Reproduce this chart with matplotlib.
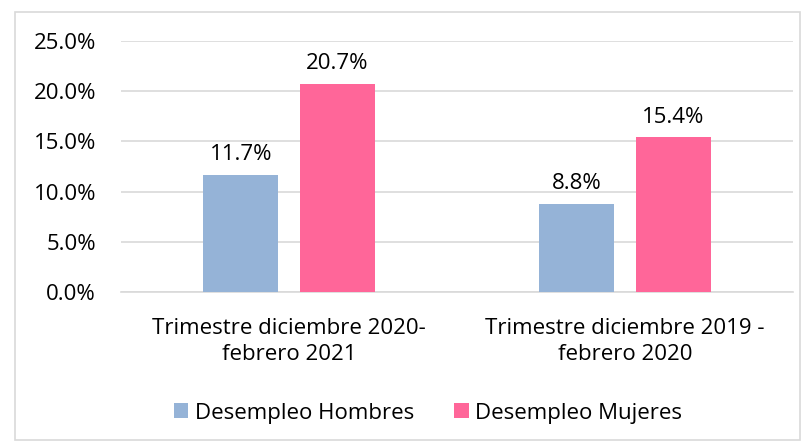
import matplotlib.pyplot as plt
from matplotlib.patches import Rectangle
from matplotlib.ticker import FuncFormatter

categories = ["Trimestre diciembre 2020-\nfebrero 2021", "Trimestre diciembre 2019 -\nfebrero 2020"]
hombres = [11.7, 8.8]
mujeres = [20.7, 15.4]
series_names = ["Desempleo Hombres", "Desempleo Mujeres"]
y_ticks = [0, 5, 10, 15, 20, 25]

plt.rcParams['font.family'] = ['Open Sans', 'DejaVu Sans']
fs = 16

fig = plt.figure(figsize=(8.08, 4.47), dpi=100)
ax = fig.add_axes([121/808, 1 - 292/447, 672/808, 251/447])

# frame around the whole chart
fig.patches.append(Rectangle((15/808, 1 - 440/447), 785/808, 428/447,
                             transform=fig.transFigure, fill=False,
                             edgecolor='#D9D9D9', linewidth=1.2))

x = range(len(categories))
w = 0.223
off = 0.143
b1 = ax.bar([i - off for i in x], hombres, w, color='#95B3D7', label=series_names[0], zorder=3)
b2 = ax.bar([i + off for i in x], mujeres, w, color='#FF6699', label=series_names[1], zorder=3)

for bars, vals in ((b1, hombres), (b2, mujeres)):
    for r, v in zip(bars, vals):
        ax.annotate(f"{v:.1f}%", (r.get_x() + r.get_width() / 2, v),
                    xytext=(0, 7), textcoords='offset points',
                    ha='center', va='bottom', fontsize=fs, color='#000000')

ax.set_xlim(-0.5, 1.5)
ax.set_ylim(0, 25)
ax.set_yticks(y_ticks)
ax.yaxis.set_major_formatter(FuncFormatter(lambda v, p: f"{v:.1f}%"))
ax.set_xticks(list(x))
ax.set_xticklabels(categories, fontsize=fs, linespacing=1.3)
ax.tick_params(axis='y', labelsize=fs, length=0, pad=18)
ax.tick_params(axis='x', length=0, pad=19)
ax.grid(axis='y', color='#D9D9D9', linewidth=1.2, zorder=0)
for s in ('top', 'right', 'left'):
    ax.spines[s].set_visible(False)
ax.spines['bottom'].set_color('#D9D9D9')
ax.spines['bottom'].set_linewidth(1.2)

fig.legend(handles=[b1, b2], loc='center', bbox_to_anchor=(428/808, 1 - 413/447),
           ncol=2, frameon=False, fontsize=fs, handlelength=0.65, handleheight=0.65,
           handletextpad=0.3, columnspacing=1.8)

fig.savefig('out.png', dpi=100)
